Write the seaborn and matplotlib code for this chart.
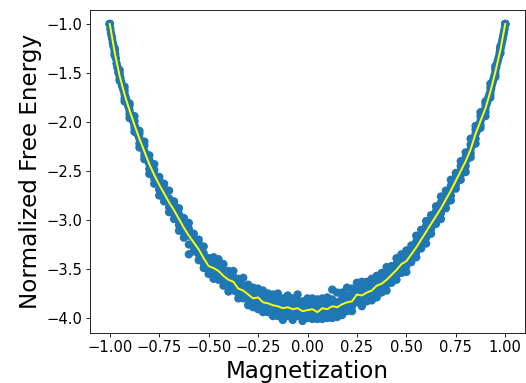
import matplotlib
matplotlib.use("Agg")
import matplotlib.pyplot as plt
import seaborn as sns
import pandas as pd

# Magnetization grid (x values)
magnetization = [
    -1.000, -0.975, -0.950, -0.925, -0.900, -0.875, -0.850, -0.825, -0.800, -0.775,
    -0.750, -0.725, -0.700, -0.675, -0.650, -0.625, -0.600, -0.575, -0.550, -0.525,
    -0.500, -0.475, -0.450, -0.425, -0.400, -0.375, -0.350, -0.325, -0.300, -0.275,
    -0.250, -0.225, -0.200, -0.175, -0.150, -0.125, -0.100, -0.075, -0.050, -0.025,
    0.000,
    0.025, 0.050, 0.075, 0.100, 0.125, 0.150, 0.175, 0.200, 0.225, 0.250,
    0.275, 0.300, 0.325, 0.350, 0.375, 0.400, 0.425, 0.450, 0.475, 0.500,
    0.525, 0.550, 0.575, 0.600, 0.625, 0.650, 0.675, 0.700, 0.725, 0.750,
    0.775, 0.800, 0.825, 0.850, 0.875, 0.900, 0.925, 0.950, 0.975, 1.000,
]

# Mean normalized free energy (yellow line)
mean_energy = [
    -1.00, -1.29, -1.53, -1.72, -1.88, -2.03, -2.17, -2.30, -2.43, -2.54,
    -2.64, -2.73, -2.82, -2.90, -2.99, -3.08, -3.16, -3.23, -3.30, -3.39,
    -3.47, -3.49, -3.52, -3.57, -3.61, -3.63, -3.70, -3.72, -3.76, -3.80,
    -3.79, -3.84, -3.85, -3.87, -3.88, -3.90, -3.89, -3.91, -3.90, -3.93,
    -3.92,
    -3.91, -3.94, -3.90, -3.91, -3.88, -3.89, -3.86, -3.84, -3.83, -3.76,
    -3.77, -3.74, -3.72, -3.67, -3.65, -3.61, -3.56, -3.51, -3.45, -3.42,
    -3.35, -3.28, -3.20, -3.12, -3.04, -2.96, -2.88, -2.79, -2.70, -2.60,
    -2.50, -2.40, -2.28, -2.12, -1.99, -1.86, -1.69, -1.49, -1.27, -1.00,
]

spread_top = [
    0.00, 0.04, 0.06, 0.08, 0.07, 0.09, 0.08, 0.10, 0.09, 0.11,
    0.08, 0.10, 0.12, 0.09, 0.11, 0.10, 0.13, 0.09, 0.10, 0.12,
    0.08, 0.11, 0.12, 0.12, 0.09, 0.11, 0.10, 0.13, 0.10, 0.11,
    0.09, 0.12, 0.10, 0.11, 0.13, 0.10, 0.12, 0.11, 0.14, 0.10,
    0.12,
    0.11, 0.13, 0.10, 0.12, 0.17, 0.15, 0.12, 0.15, 0.13, 0.12,
    0.14, 0.11, 0.12, 0.10, 0.11, 0.13, 0.09, 0.12, 0.10, 0.11,
    0.09, 0.12, 0.10, 0.11, 0.09, 0.10, 0.12, 0.09, 0.11, 0.08,
    0.10, 0.09, 0.11, 0.08, 0.09, 0.07, 0.08, 0.06, 0.04, 0.00,
]
spread_upper = [
    0.00, 0.02, 0.03, 0.04, 0.05, 0.04, 0.05, 0.06, 0.04, 0.05,
    0.06, 0.05, 0.04, 0.06, 0.05, 0.05, 0.07, 0.04, 0.06, 0.05,
    0.04, 0.06, 0.05, 0.06, 0.04, 0.05, 0.06, 0.05, 0.04, 0.06,
    0.05, 0.06, 0.04, 0.05, 0.06, 0.05, 0.06, 0.05, 0.07, 0.05,
    0.06,
    0.05, 0.07, 0.05, 0.06, 0.07, 0.05, 0.06, 0.07, 0.06, 0.05,
    0.07, 0.05, 0.06, 0.05, 0.06, 0.07, 0.05, 0.06, 0.05, 0.06,
    0.04, 0.06, 0.05, 0.06, 0.04, 0.05, 0.06, 0.04, 0.05, 0.04,
    0.05, 0.04, 0.05, 0.04, 0.05, 0.04, 0.04, 0.03, 0.02, 0.00,
]
spread_lower = [
    0.00, -0.02, -0.03, -0.04, -0.04, -0.03, -0.05, -0.04, -0.05, -0.04,
    -0.05, -0.04, -0.05, -0.04, -0.06, -0.05, -0.09, -0.04, -0.05, -0.05,
    -0.04, -0.05, -0.04, -0.05, -0.06, -0.04, -0.05, -0.04, -0.05, -0.04,
    -0.06, -0.05, -0.04, -0.05, -0.05, -0.06, -0.04, -0.05, -0.04, -0.05,
    -0.04,
    -0.05, -0.04, -0.05, -0.04, -0.06, -0.05, -0.05, -0.04, -0.05, -0.04,
    -0.05, -0.04, -0.05, -0.06, -0.04, -0.05, -0.04, -0.05, -0.04, -0.05,
    -0.04, -0.05, -0.04, -0.06, -0.05, -0.04, -0.05, -0.04, -0.05, -0.04,
    -0.04, -0.05, -0.04, -0.05, -0.04, -0.04, -0.03, -0.03, -0.02, 0.00,
]
spread_bottom = [
    0.00, -0.03, -0.05, -0.07, -0.08, -0.07, -0.09, -0.08, -0.10, -0.09,
    -0.11, -0.08, -0.10, -0.09, -0.12, -0.10, -0.19, -0.09, -0.11, -0.10,
    -0.08, -0.11, -0.09, -0.10, -0.12, -0.09, -0.10, -0.08, -0.11, -0.09,
    -0.12, -0.10, -0.09, -0.11, -0.10, -0.12, -0.09, -0.11, -0.08, -0.10,
    -0.08,
    -0.10, -0.07, -0.11, -0.09, -0.12, -0.10, -0.11, -0.09, -0.10, -0.08,
    -0.11, -0.09, -0.10, -0.12, -0.09, -0.11, -0.08, -0.10, -0.09, -0.11,
    -0.08, -0.10, -0.09, -0.12, -0.10, -0.08, -0.11, -0.09, -0.10, -0.08,
    -0.09, -0.11, -0.08, -0.10, -0.07, -0.08, -0.06, -0.05, -0.03, 0.00,
]

# Extra samples on the steep branches near |m| = 1
edge_m = [
    -0.997, -0.994, -0.991, -0.988, -0.985, -0.982, -0.979, -0.972, -0.969, -0.966,
    -0.963, -0.960, -0.957, -0.954, -0.946, -0.942, -0.938, -0.934, -0.930, -0.921,
    -0.917, -0.913, -0.909, -0.905, -0.895, -0.890, -0.885, -0.880, -0.870, -0.865,
    -0.860, -0.855, -0.845, -0.838, -0.832, -0.818, -0.812, -0.806, -0.792, -0.786,
    -0.781, -0.768, -0.762, -0.756,
    0.997, 0.994, 0.991, 0.988, 0.985, 0.982, 0.979, 0.971, 0.967, 0.963,
    0.959, 0.955, 0.945, 0.941, 0.937, 0.933, 0.929, 0.920, 0.915, 0.910,
    0.905, 0.895, 0.890, 0.885, 0.880, 0.870, 0.865, 0.860, 0.855, 0.845,
    0.838, 0.832, 0.818, 0.812, 0.806, 0.792, 0.786, 0.781, 0.768, 0.762,
    0.756,
]
edge_f = [
    -1.05, -1.09, -1.12, -1.15, -1.19, -1.22, -1.24, -1.31, -1.35, -1.40,
    -1.43, -1.45, -1.49, -1.51, -1.55, -1.59, -1.63, -1.65, -1.68, -1.74,
    -1.77, -1.80, -1.82, -1.85, -1.92, -1.94, -1.97, -2.00, -2.06, -2.08,
    -2.12, -2.14, -2.19, -2.24, -2.26, -2.33, -2.37, -2.40, -2.46, -2.49,
    -2.51, -2.56, -2.60, -2.62,
    -1.05, -1.08, -1.11, -1.14, -1.17, -1.20, -1.23, -1.30, -1.34, -1.37,
    -1.40, -1.44, -1.53, -1.56, -1.59, -1.62, -1.66, -1.72, -1.75, -1.79,
    -1.82, -1.89, -1.91, -1.94, -1.96, -2.02, -2.04, -2.07, -2.10, -2.16,
    -2.20, -2.24, -2.33, -2.36, -2.38, -2.44, -2.47, -2.49, -2.55, -2.57,
    -2.59,
]

x_label = "Magnetization"
y_label = "Normalized Free Energy"
x_ticks = [-1.00, -0.75, -0.50, -0.25, 0.00, 0.25, 0.50, 0.75, 1.00]
y_ticks = [-4.0, -3.5, -3.0, -2.5, -2.0, -1.5, -1.0]

# Long-form sample table
rows = []
for spread in (spread_top, spread_upper, [0.0] * len(mean_energy), spread_lower, spread_bottom):
    for m, f, d in zip(magnetization, mean_energy, spread):
        rows.append((m, f + d))
rows += list(zip(edge_m, edge_f))
samples = pd.DataFrame(rows, columns=["m", "f"])
mean_df = pd.DataFrame({"m": magnetization, "f": mean_energy})

fig = plt.figure(figsize=(5.26, 3.83), dpi=100)
ax = fig.add_axes([90 / 526, 50 / 383, 435 / 526, 323 / 383])

sns.scatterplot(data=samples, x="m", y="f", s=36, color="#1f77b4",
                linewidth=0, edgecolor="none", ax=ax, zorder=1)
sns.lineplot(data=mean_df, x="m", y="f", color="yellow", linewidth=1.4,
             estimator=None, sort=False, ax=ax, zorder=2)

ax.set_xlim(-1.1, 1.1)
ax.set_ylim(-4.153, -0.857)
ax.set_xticks(x_ticks)
ax.set_xticklabels([f"{t:.2f}".replace("-", "\u2212") for t in x_ticks])
ax.set_yticks(y_ticks)
ax.set_yticklabels([f"{t:.1f}".replace("-", "\u2212") for t in y_ticks])
ax.tick_params(labelsize=10.6, length=2.7, width=0.6, pad=2.7)
for sp in ax.spines.values():
    sp.set_linewidth(0.6)
ax.set_xlabel(x_label, fontsize=16.6, labelpad=3)
ax.set_ylabel(y_label, fontsize=16.6, labelpad=3)

fig.savefig("out.png", dpi=100)
